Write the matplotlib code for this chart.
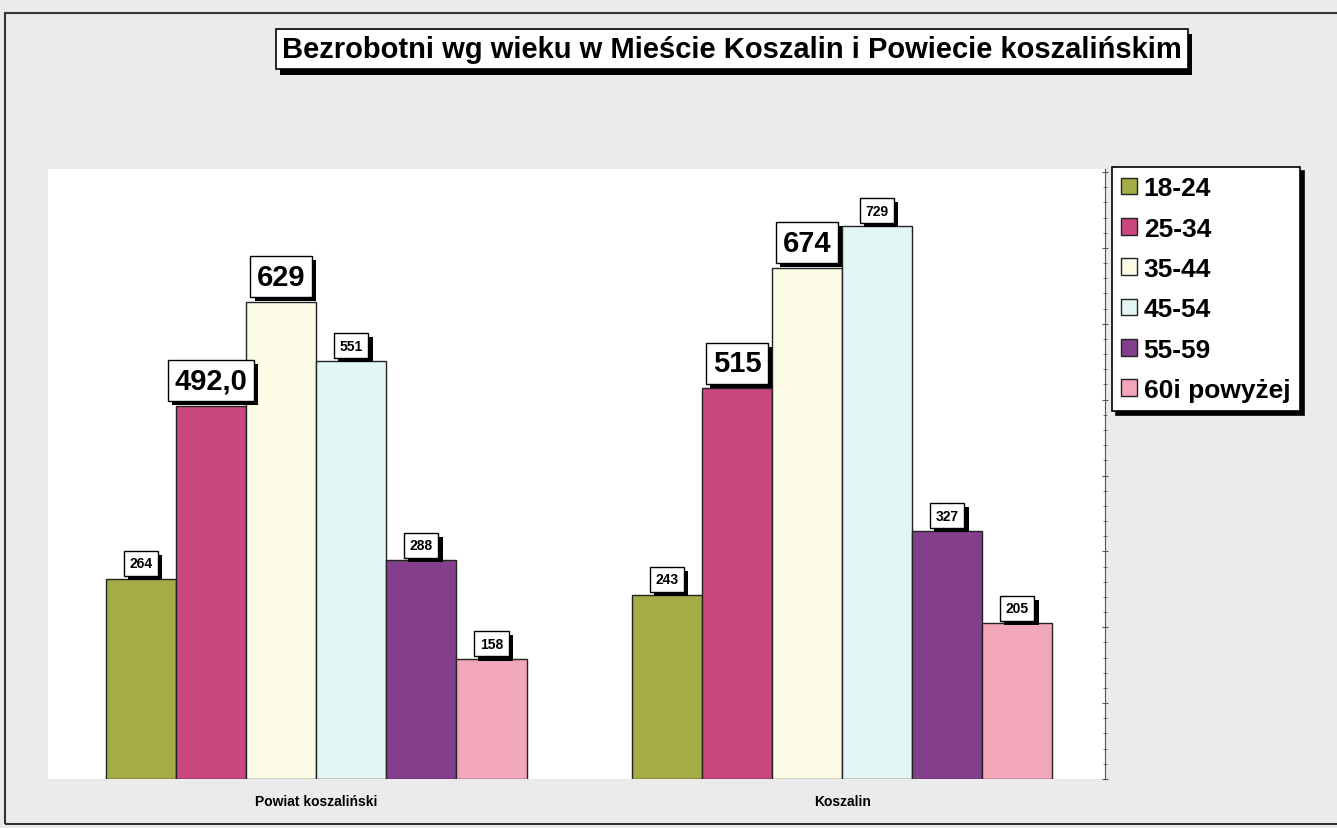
import numpy as np
import matplotlib
matplotlib.use("Agg")
from matplotlib import pyplot as plt
from matplotlib import patheffects as pe
from matplotlib.patches import Patch, Rectangle
from matplotlib.ticker import MultipleLocator

plt.rcParams['font.family'] = ['Liberation Sans', 'DejaVu Sans']

# data
groups = ["Powiat koszaliński", "Koszalin"]
age_bands = ["18-24", "25-34", "35-44", "45-54", "55-59", "60i powyżej"]
powiat = [264, 492, 629, 551, 288, 158]
koszalin = [243, 515, 674, 729, 327, 205]
powiat_labels = ["264", "492,0", "629", "551", "288", "158"]
koszalin_labels = ["243", "515", "674", "729", "327", "205"]
big_labels = {"492,0", "629", "515", "674"}
colors = ["#a4ac46", "#c9467f", "#fcfce6", "#e3f6f6", "#833f8b", "#f1a7b9"]

W, H = 1337, 829
fig = plt.figure(figsize=(W / 100, H / 100), dpi=100)
fig.patch.set_facecolor("#ebebeb")

# outer frame of the scanned page
fig.add_artist(Rectangle((5 / W, 4 / H), 1.2, (H - 18) / H, transform=fig.transFigure,
                         fill=False, edgecolor="#333333", lw=1.5))

ax = fig.add_axes([48 / W, 49 / H, (1105 - 48) / W, (780 - 170) / H])
ax.set_facecolor("white")

x = np.arange(len(groups))
bw = 0.8 / len(age_bands)
data = np.array([powiat, koszalin])
labels = [powiat_labels, koszalin_labels]
shadow = [pe.withSimplePatchShadow(offset=(3, -3), shadow_rgbFace="black", alpha=1.0)]

for i, band in enumerate(age_bands):
    pos = x - 0.4 + bw * (i + 0.5)
    ax.bar(pos, data[:, i], bw, color=colors[i], edgecolor="#222222", lw=1.0, zorder=2)
    for g in range(len(groups)):
        txt = labels[g][i]
        big = txt in big_labels
        t = ax.annotate(txt, (pos[g], data[g, i]), xytext=(0, 8 if big else 6),
                        textcoords="offset points", ha="center", va="bottom",
                        fontsize=21 if big else 10, fontweight="bold", zorder=5,
                        bbox=dict(boxstyle="square,pad=0.22" if big else "square,pad=0.4",
                                  fc="white", ec="black", lw=1.0))
        t.get_bbox_patch().set_path_effects(shadow)

ax.set_xlim(-0.51, 1.5)
ax.set_ylim(0, 804)
ax.set_xticks(x)
ax.set_xticklabels(groups, fontsize=10, fontweight="bold")
ax.tick_params(axis="x", length=0, pad=11)

for s in ["left", "top", "bottom"]:
    ax.spines[s].set_visible(False)
ax.spines["right"].set_color("#555555")
ax.yaxis.tick_right()
ax.yaxis.set_major_locator(MultipleLocator(100))
ax.yaxis.set_minor_locator(MultipleLocator(20))
ax.tick_params(axis="y", which="major", length=5, direction="inout", labelright=False, color="#555555")
ax.tick_params(axis="y", which="minor", length=3, direction="inout", color="#555555")

# title box
tt = fig.text(732 / W, 1 - 50 / H, "Bezrobotni wg wieku w Mieście Koszalin i Powiecie koszalińskim",
              ha="center", va="center", fontsize=21, fontweight="bold",
              bbox=dict(boxstyle="square,pad=0.22", fc="white", ec="black", lw=1.2))
tt.get_bbox_patch().set_path_effects([pe.withSimplePatchShadow(offset=(3, -4), shadow_rgbFace="black", alpha=1.0)])

handles = [Patch(facecolor=c, edgecolor="#222222", lw=1.0) for c in colors]
leg = fig.legend(handles, age_bands, loc="upper left", bbox_to_anchor=(1112 / W, 1 - 168 / H),
                 prop={"weight": "bold", "size": 19}, frameon=True, fancybox=False,
                 handlelength=0.6, handleheight=0.6, handletextpad=0.25, labelspacing=0.62,
                 borderpad=0.35, borderaxespad=0,
                 shadow={"color": "black", "alpha": 1.0, "ox": 3, "oy": -3})
leg.get_frame().set_edgecolor("black")
leg.get_frame().set_linewidth(1.2)

fig.savefig("out.png", dpi=100, facecolor=fig.get_facecolor())
